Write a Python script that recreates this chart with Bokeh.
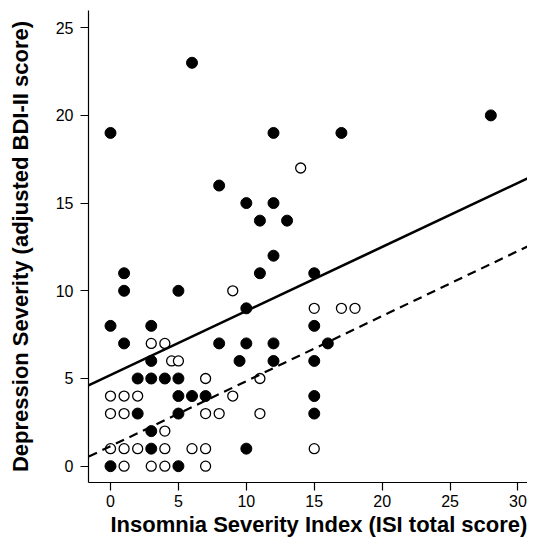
from bokeh.plotting import figure
from bokeh.models import Range1d, FixedTicker, Slope, Title
from bokeh.embed import file_html
from bokeh.resources import INLINE

# Group with elevated depression (filled circles)
filled_isi = [0, 6, 12, 17, 28, 8, 10, 12, 11, 13, 12, 11, 1, 1, 5, 15, 10,
              0, 3, 15, 1, 8, 10, 12, 16, 3, 9.5, 12, 15, 2, 3, 4, 5,
              5, 6, 7, 15, 2, 5, 15, 3, 3, 10, 0, 5]
filled_bdi = [19, 23, 19, 19, 20, 16, 15, 15, 14, 14, 12, 11, 11, 10, 10, 11, 9,
              8, 8, 8, 7, 7, 7, 7, 7, 6, 6, 6, 6, 5, 5, 5, 5,
              4, 4, 4, 4, 3, 3, 3, 2, 1, 1, 0, 0]

# Other group (open circles)
open_isi = [14, 9, 3, 4, 4.5, 5, 7, 11, 15, 17, 18, 0, 1, 2, 9, 0, 1, 7, 8, 11,
            4, 0, 1, 2, 4, 6, 7, 15, 1, 3, 4, 7]
open_bdi = [17, 10, 7, 7, 6, 6, 5, 5, 9, 9, 9, 4, 4, 4, 4, 3, 3, 3, 3, 3,
            2, 1, 1, 1, 1, 1, 1, 1, 0, 0, 0, 0]

# Regression lines (intercept, slope)
filled_fit = (5.2, 0.365)
open_fit = (1.14, 0.371)

x_ticks = [0, 5, 10, 15, 20, 25, 30]
y_ticks = [0, 5, 10, 15, 20, 25]

x_title = "Insomnia Severity Index (ISI total score)"
y_title = "Depression Severity (adjusted BDI-II score)"

p = figure(width=527, height=540, output_backend="svg", toolbar_location=None,
           x_range=Range1d(-1.62, 30.70), y_range=Range1d(-0.93, 25.98),
           min_border_left=88, min_border_right=0, min_border_top=10,
           min_border_bottom=58)
p.outline_line_color = None
p.xgrid.visible = False
p.ygrid.visible = False
p.background_fill_color = "white"
p.border_fill_color = "white"

p.add_layout(Slope(gradient=filled_fit[1], y_intercept=filled_fit[0],
                   line_color="black", line_width=2.6))
p.add_layout(Slope(gradient=open_fit[1], y_intercept=open_fit[0],
                   line_color="black", line_width=2.2, line_dash="9 6"))

p.scatter(open_isi, open_bdi, size=10, fill_color="white", line_color="black",
          line_width=1.3)
p.scatter(filled_isi, filled_bdi, size=11, fill_color="black", line_color="black")

p.xaxis.ticker = FixedTicker(ticks=x_ticks)
p.yaxis.ticker = FixedTicker(ticks=y_ticks)
p.yaxis.axis_label = y_title

for ax in (p.xaxis, p.yaxis):
    ax.axis_line_color = "black"
    ax.axis_line_width = 1.2
    ax.major_tick_line_color = "black"
    ax.major_tick_line_width = 1.2
    ax.major_tick_out = 8
    ax.major_tick_in = 0
    ax.minor_tick_line_color = None
    ax.major_label_text_font = "Liberation Sans"
    ax.major_label_text_font_size = "16px"
    ax.major_label_text_color = "black"
    ax.axis_label_text_font = "Liberation Sans"
    ax.axis_label_text_font_size = "22px"
    ax.axis_label_text_font_style = "bold"
    ax.axis_label_text_color = "black"

p.xaxis.major_label_standoff = 4
p.yaxis.major_label_standoff = 7
p.yaxis.axis_label_standoff = 20

p.add_layout(Title(text=x_title, align="left", offset=22, standoff=2,
                   vertical_align="middle", text_font="Liberation Sans",
                   text_font_size="22px", text_font_style="bold",
                   text_color="black"), "below")

open("out.html", "w").write(file_html(p, INLINE))
